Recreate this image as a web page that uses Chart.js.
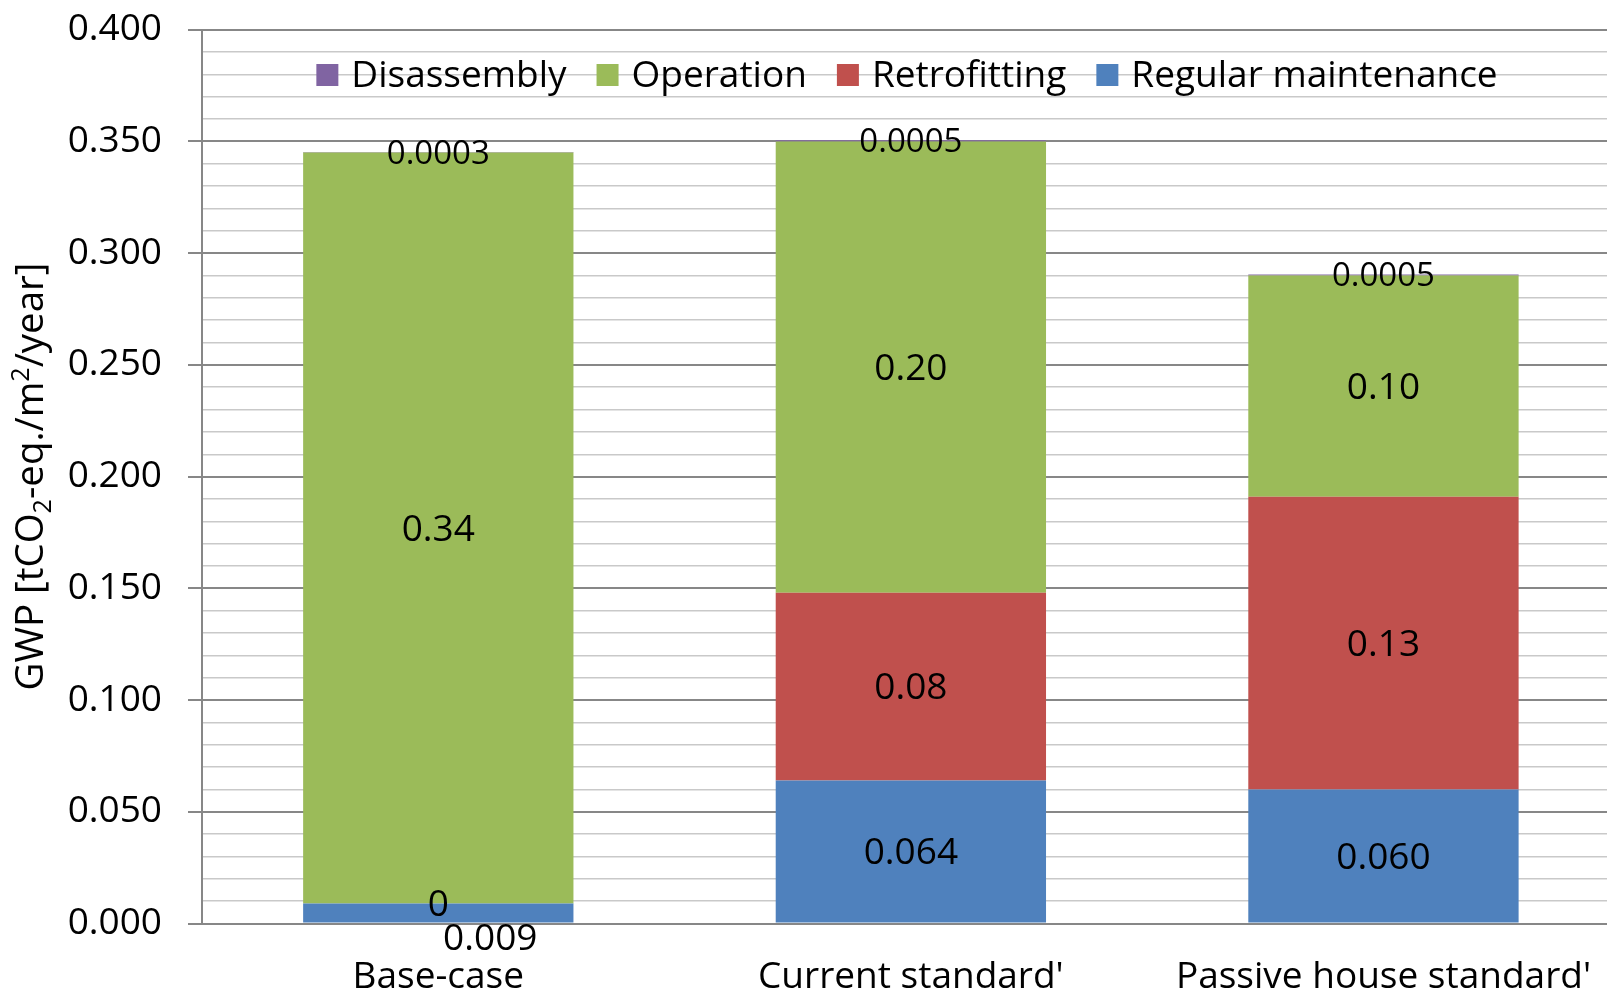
<!DOCTYPE html>
<html><head><meta charset="utf-8">
<script src="https://cdn.jsdelivr.net/npm/chart.js@4"></script>
<style>
html,body{margin:0;padding:0;overflow:hidden;background:#fff;}
#wrap{position:absolute;left:0;top:0;width:1623px;height:997px;}
</style></head><body>
<div id="wrap"><canvas id="c" width="1623" height="997"></canvas></div>
<script>
// GWP per life-cycle stage, tCO2-eq./m2/year
const categories = ["Base-case", "Current standard'", "Passive house standard'"];
const regularMaintenance = [0.009, 0.064, 0.060];
const retrofitting = [0, 0.084, 0.131];
const operation = [0.336, 0.202, 0.099];
const disassembly = [0.0003, 0.0005, 0.0005];

const yMin = 0, yMax = 0.4, yStep = 0.01;

const FONT = '"Open Sans", "Noto Sans", sans-serif';
const GRID_MAJOR = '#878787';
const GRID_MINOR = '#c9c9c9';

function isMajor(v) { return Math.round(v * 100) % 5 === 0; }

function fmt(v, dec) { return v === 0 ? '0' : v.toFixed(dec); }

// value labels on each bar segment
const segmentLabels = {
  id: 'segmentLabels',
  afterDatasetsDraw(chart) {
    const ctx = chart.ctx;
    ctx.save();
    ctx.fillStyle = '#000';
    ctx.textAlign = 'center';
    ctx.textBaseline = 'middle';
    chart.data.datasets.forEach((ds, di) => {
      const meta = chart.getDatasetMeta(di);
      meta.data.forEach((bar, i) => {
        const v = ds.data[i];
        const text = fmt(v, ds.labelDecimals);
        let x = bar.x, y = (bar.y + bar.base) / 2 + 2;
        let size = 37;
        if (ds.labelSmall) { size = 33; }
        else if (di === 0 && Math.abs(bar.base - bar.y) < 30 && v > 0) {
          // too thin to hold its label: put it under the axis
          x = bar.x + 52; y = bar.base + 17;
        }
        ctx.font = size + 'px ' + FONT;
        ctx.fillText(text, x, y);
      });
    });
    ctx.restore();
  }
};

// legend drawn inside the plot area, in reverse stacking order
const innerLegend = {
  id: 'innerLegend',
  afterDraw(chart) {
    const ctx = chart.ctx;
    const items = chart.data.datasets.slice().reverse();
    ctx.save();
    ctx.font = '37px ' + FONT;
    ctx.textBaseline = 'middle';
    ctx.textAlign = 'left';
    const box = 22, gap = 13, itemGap = 30;
    const widths = items.map(d => ctx.measureText(d.label).width);
    let total = widths.reduce((a, w) => a + box + gap + w, 0) + itemGap * (items.length - 1);
    let x = 907 - total / 2;
    const cy = 75;
    items.forEach((d, k) => {
      ctx.fillStyle = d.backgroundColor;
      ctx.fillRect(x, cy - box / 2, box, box);
      ctx.fillStyle = '#000';
      ctx.fillText(d.label, x + box + gap, cy + 1);
      x += box + gap + widths[k] + itemGap;
    });
    ctx.restore();
  }
};

// rotated y-axis title with sub/superscripts
const yTitle = {
  id: 'yTitle',
  afterDraw(chart) {
    const ctx = chart.ctx;
    const area = chart.chartArea;
    const parts = [
      { t: 'GWP [tCO', s: 38.5, dy: 0 },
      { t: '2', s: 25, dy: 8 },
      { t: '-eq./m', s: 38.5, dy: 0 },
      { t: '2', s: 25, dy: -14 },
      { t: '/year]', s: 38.5, dy: 0 }
    ];
    ctx.save();
    ctx.fillStyle = '#000';
    ctx.textBaseline = 'alphabetic';
    ctx.textAlign = 'left';
    let total = 0;
    parts.forEach(p => { ctx.font = p.s + 'px ' + FONT; p.w = ctx.measureText(p.t).width; total += p.w; });
    ctx.translate(43, (area.top + area.bottom) / 2);
    ctx.rotate(-Math.PI / 2);
    let x = -total / 2;
    parts.forEach(p => {
      ctx.font = p.s + 'px ' + FONT;
      ctx.fillText(p.t, x, p.dy);
      x += p.w;
    });
    ctx.restore();
  }
};

new Chart(document.getElementById('c'), {
  type: 'bar',
  data: {
    labels: categories,
    datasets: [
      { label: 'Regular maintenance', data: regularMaintenance, backgroundColor: '#4F81BD', labelDecimals: 3 },
      { label: 'Retrofitting', data: retrofitting, backgroundColor: '#C0504D', labelDecimals: 2 },
      { label: 'Operation', data: operation, backgroundColor: '#9BBB59', labelDecimals: 2 },
      { label: 'Disassembly', data: disassembly, backgroundColor: '#8064A2', labelDecimals: 4, labelSmall: true }
    ]
  },
  options: {
    responsive: false,
    animation: false,
    layout: { padding: { left: 0, top: 29.7, right: 0, bottom: 0 } },
    datasets: { bar: { categoryPercentage: 1, barPercentage: 0.572, borderWidth: 0 } },
    plugins: { legend: { display: false }, tooltip: { enabled: false } },
    scales: {
      x: {
        stacked: true,
        grid: { display: false, drawTicks: false },
        border: { display: true, color: GRID_MAJOR, width: 2 },
        ticks: { color: '#000', font: { family: FONT, size: 37 }, padding: 32, maxRotation: 0 },
        afterFit(scale) { scale.height = 73.5; }
      },
      y: {
        stacked: true,
        min: yMin, max: yMax,
        grid: {
          color: c => isMajor(c.tick.value) ? GRID_MAJOR : GRID_MINOR,
          lineWidth: c => isMajor(c.tick.value) ? 2 : 1.5,
          tickColor: c => isMajor(c.tick.value) ? GRID_MAJOR : 'rgba(0,0,0,0)',
          tickLength: 14
        },
        border: { display: true, color: GRID_MAJOR, width: 2 },
        ticks: {
          stepSize: yStep,
          autoSkip: false,
          color: '#000',
          font: { family: FONT, size: 37, lineHeight: 0.1 },
          padding: 26,
          callback: v => isMajor(v) ? v.toFixed(3) : ''
        },
        afterFit(scale) { scale.width = 202; }
      }
    }
  },
  plugins: [segmentLabels, innerLegend, yTitle]
});
</script>
</body></html>
